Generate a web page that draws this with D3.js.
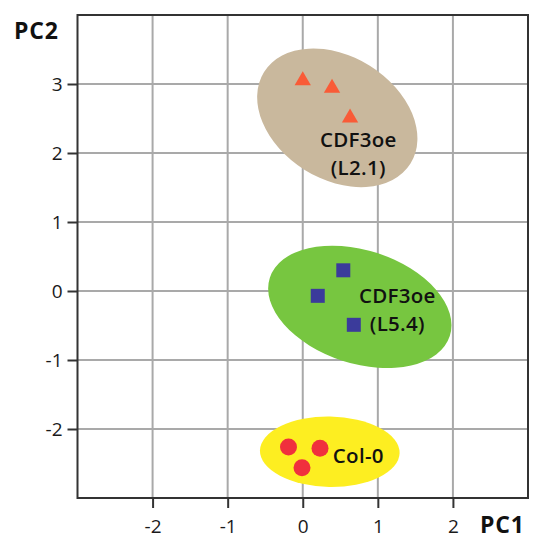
<!DOCTYPE html>
<html>
<head>
<meta charset="utf-8">
<script src="https://cdn.jsdelivr.net/npm/d3@7"></script>
<style>
  body { margin: 0; background: #fff; }
  text { font-family: "Open Sans", sans-serif; }
</style>
</head>
<body>
<div id="chart"></div>
<script>
const xTicks = [-2, -1, 0, 1, 2];
const yTicks = [-2, -1, 0, 1, 2, 3];

// PC1, PC2 scores per line
const l21Points = [[0.0, 3.05], [0.39, 2.94], [0.63, 2.51]];
const l54Points = [[0.2, -0.07], [0.54, 0.30], [0.68, -0.49]];
const col0Points = [[-0.19, -2.26], [0.23, -2.28], [-0.01, -2.56]];

// confidence ellipses: centre, radii (data units), tilt in degrees
const ellipses = [
  { cx: 0.46, cy: 2.51, rx: 1.15, ry: 0.89, angle: 32, fill: "#c9b89d" },
  { cx: 0.76, cy: -0.23, rx: 1.26, ry: 0.82, angle: 18, fill: "#77c640" },
  { cx: 0.36, cy: -2.33, rx: 0.93, ry: 0.51, angle: 1, fill: "#fdee21" }
];

const groupLabels = [
  { lines: ["CDF3oe", "(L2.1)"], x: 0.74, y: 2.09, anchor: "middle" },
  { lines: ["CDF3oe", "(L5.4)"], x: 1.26, y: -0.17, anchor: "middle" },
  { lines: ["Col-0"], x: 0.40, y: -2.49, anchor: "start" }
];

const width = 542;
const height = 550;
const margin = { top: 15, right: 14, bottom: 52, left: 77.5 };

const svg = d3
  .select("#chart")
  .append("svg")
  .attr("width", width)
  .attr("height", height);

const x = d3.scaleLinear().domain([-3, 3]).range([margin.left, width - margin.right]);
const y = d3.scaleLinear().domain([-3, 4]).range([height - margin.bottom, margin.top]);

// grid
svg.append("g")
  .selectAll("line")
  .data(xTicks)
  .enter()
  .append("line")
  .attr("x1", d => x(d))
  .attr("x2", d => x(d))
  .attr("y1", y(-3))
  .attr("y2", y(4))
  .attr("stroke", "#a9a9a9")
  .attr("stroke-width", 2);

svg.append("g")
  .selectAll("line")
  .data(yTicks)
  .enter()
  .append("line")
  .attr("x1", x(-3))
  .attr("x2", x(3))
  .attr("y1", d => y(d))
  .attr("y2", d => y(d))
  .attr("stroke", "#a9a9a9")
  .attr("stroke-width", 2);

// ellipses
svg.append("g")
  .selectAll("ellipse")
  .data(ellipses)
  .enter()
  .append("ellipse")
  .attr("transform", d => `translate(${x(d.cx)},${y(d.cy)}) rotate(${d.angle})`)
  .attr("rx", d => x(d.cx + d.rx) - x(d.cx))
  .attr("ry", d => y(d.cy) - y(d.cy + d.ry))
  .attr("fill", d => d.fill);

// points
svg.append("g")
  .selectAll("path")
  .data(l21Points)
  .enter()
  .append("path")
  .attr("transform", d => `translate(${x(d[0])},${y(d[1])})`)
  .attr("d", d3.symbol(d3.symbolTriangle, 115))
  .attr("fill", "#f95b37");

svg.append("g")
  .selectAll("path")
  .data(l54Points)
  .enter()
  .append("path")
  .attr("transform", d => `translate(${x(d[0])},${y(d[1])})`)
  .attr("d", d3.symbol(d3.symbolSquare, 196))
  .attr("fill", "#3b3b9b");

svg.append("g")
  .selectAll("circle")
  .data(col0Points)
  .enter()
  .append("circle")
  .attr("cx", d => x(d[0]))
  .attr("cy", d => y(d[1]))
  .attr("r", 8.5)
  .attr("fill", "#f0303d");

// group labels
const lbl = svg.append("g")
  .selectAll("text")
  .data(groupLabels)
  .enter()
  .append("text")
  .attr("text-anchor", d => d.anchor)
  .attr("font-size", "20.5px")
  .attr("font-weight", 600)
  .attr("letter-spacing", "0.3px")
  .attr("fill", "#111");

lbl.selectAll("tspan")
  .data(d => d.lines.map((t, i) => ({ t, i, d })))
  .enter()
  .append("tspan")
  .attr("x", e => x(e.d.x))
  .attr("y", e => y(e.d.y) + e.i * 28)
  .text(e => e.t);

// frame
svg.append("rect")
  .attr("x", x(-3))
  .attr("y", y(4))
  .attr("width", x(3) - x(-3))
  .attr("height", y(-3) - y(4))
  .attr("fill", "none")
  .attr("stroke", "#333")
  .attr("stroke-width", 2);

// axes
const xAxis = svg.append("g")
  .attr("transform", `translate(0,${y(-3)})`)
  .call(d3.axisBottom(x).tickValues(xTicks).tickSize(10).tickPadding(12).tickFormat(d => String(d)));

const yAxis = svg.append("g")
  .attr("transform", `translate(${x(-3)},0)`)
  .call(d3.axisLeft(y).tickValues(yTicks).tickSize(10).tickPadding(5).tickFormat(d => String(d)));

[xAxis, yAxis].forEach(g => {
  g.select(".domain").remove();
  g.selectAll(".tick line").attr("stroke", "#333").attr("stroke-width", 2);
  g.selectAll(".tick text")
    .attr("font-family", "'Open Sans', sans-serif")
    .attr("font-size", "19px")
    .attr("fill", "#1a1a1a");
});

// axis titles
svg.append("text")
  .attr("x", 14)
  .attr("y", 39)
  .attr("font-size", "23px")
  .attr("font-weight", 700)
  .attr("letter-spacing", "0.8px")
  .attr("fill", "#111")
  .text("PC2");

svg.append("text")
  .attr("x", 480)
  .attr("y", 533)
  .attr("font-size", "23px")
  .attr("font-weight", 700)
  .attr("letter-spacing", "0.8px")
  .attr("fill", "#111")
  .text("PC1");
</script>
</body>
</html>
